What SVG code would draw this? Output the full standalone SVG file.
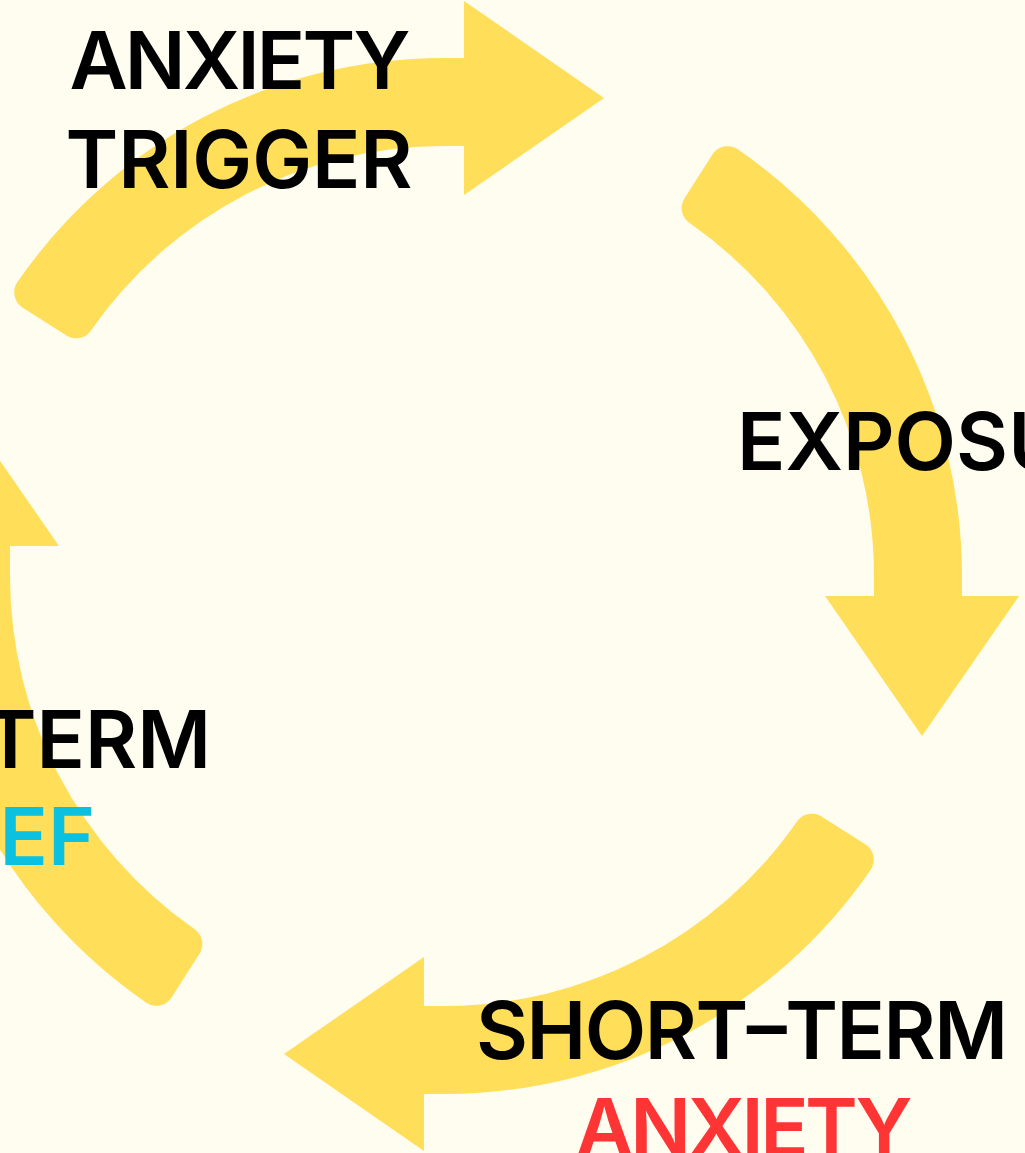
<svg xmlns="http://www.w3.org/2000/svg" xmlns:xlink="http://www.w3.org/1999/xlink" width="1025" height="1153" viewBox="0 0 1025 1153">
<style>
.lbl{font-family:Inter,"Liberation Sans",sans-serif;font-weight:600;font-size:80px;text-anchor:middle}
.blk{fill:#000}
.red{fill:#FF3434}
.cyan{fill:#0CC0DF}
.arr{fill:#FFDE59}
</style>
<defs>
<path id="arrow" class="arr" d="M17.1,282.6 A518,518 0 0 1 444,58 L464,58 L464,1 L604,98 L464,195 L464,146 L444,146 A430,430 0 0 0 91.3,330.0 A18,18 0 0 1 66.1,335.3 L22.3,307.4 A18,18 0 0 1 17.1,282.6 Z"/>
<path id="arrow-b" class="arr" d="M17.1,282.6 A518,518 0 0 1 444,58 L474,58 L474,1 L614,98 L474,195 L474,146 L444,146 A430,430 0 0 0 91.3,330.0 A18,18 0 0 1 66.1,335.3 L22.3,307.4 A18,18 0 0 1 17.1,282.6 Z"/>
</defs>
<rect width="1025" height="1153" fill="#FFFCF0"/>
<g id="connectors">
<use href="#arrow" xlink:href="#arrow"/>
<use href="#arrow" xlink:href="#arrow" transform="rotate(90 444 576)"/>
<use href="#arrow" xlink:href="#arrow" transform="rotate(180 444 576)"/>
<use href="#arrow-b" xlink:href="#arrow-b" transform="translate(-4 0) rotate(270 444 576)"/>
</g>
<g id="node-trigger">
<text class="lbl blk" x="240" y="89" textLength="341" lengthAdjust="spacing">ANXIETY</text>
<text class="lbl blk" x="239" y="188" textLength="347" lengthAdjust="spacing">TRIGGER</text>
</g>
<g id="node-exposure">
<text class="lbl blk" x="737" y="470" style="text-anchor:start">EXPOSU</text>
</g>
<g id="node-short-term">
<text class="lbl blk" x="742" y="1059" textLength="532" lengthAdjust="spacing">SHORT–TERM</text>
<text class="lbl red" x="744" y="1156" textLength="337" lengthAdjust="spacing">ANXIETY</text>
</g>
<g id="node-long-term">
<text class="lbl blk" x="211" y="768" style="text-anchor:end">TERM</text>
<text class="lbl cyan" x="95" y="865" style="text-anchor:end">EF</text>
</g>
</svg>
